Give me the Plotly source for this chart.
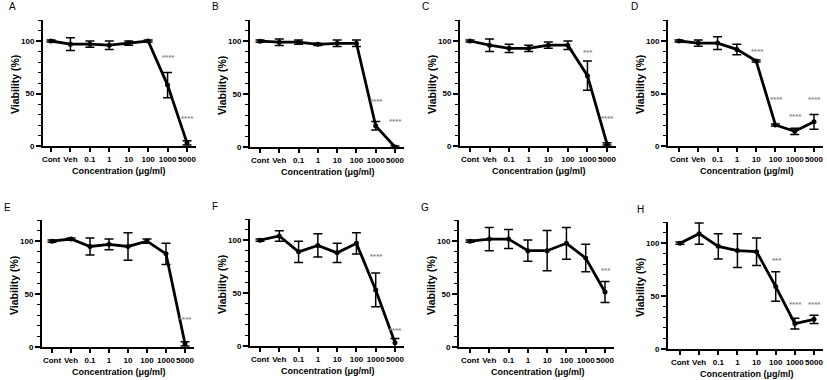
import plotly.graph_objects as go

categories = ["Cont", "Veh", "0.1", "1", "10", "100", "1000", "5000"]

A_mean = [100, 97, 97, 96, 98, 100, 58, 3]
A_err = [1, 6, 3, 4, 2, 1, 12, 2]
B_mean = [100, 99, 99, 97, 98, 98, 20, 0]
B_err = [1, 3, 2, 1, 3, 3, 4, 1]
C_mean = [100, 96, 93, 93, 96, 96, 67, 2]
C_err = [1, 6, 4, 3, 3, 4, 14, 1]
D_mean = [100, 98, 98, 92, 81, 20, 14, 23]
D_err = [1, 3, 6, 5, 1, 1, 3, 7]
E_mean = [100, 102, 95, 97, 95, 100, 88, 3]
E_err = [1, 1, 8, 5, 13, 2, 10, 2]
F_mean = [100, 104, 89, 95, 88, 97, 53, 3]
F_err = [1, 5, 10, 11, 9, 10, 16, 4]
G_mean = [100, 102, 102, 91, 91, 98, 84, 52]
G_err = [1, 11, 9, 10, 19, 15, 13, 10]
H_mean = [100, 109, 97, 93, 92, 59, 24, 28]
H_err = [1, 10, 12, 16, 13, 14, 5, 4]

# significance labels: (category index, label)
A_sig = [(6, "****"), (7, "****")]
B_sig = [(6, "****"), (7, "****")]
C_sig = [(6, "***"), (7, "****")]
D_sig = [(4, "****"), (5, "****"), (6, "****"), (7, "****")]
E_sig = [(7, "****")]
F_sig = [(6, "****"), (7, "****")]
G_sig = [(7, "***")]
H_sig = [(5, "***"), (6, "****"), (7, "****")]

W, H = 827, 380

# layout: panel letter, data, sig, y-positions of sig labels, pixel geometry
panels = [
    ("A", A_mean, A_err, A_sig, [84, 26], dict(yax=43, cont=51, last=187, top=20, zero=146, lx=7)),
    ("B", B_mean, B_err, B_sig, [43, 24], dict(yax=250, cont=260, last=395, top=20, zero=147, lx=210)),
    ("C", C_mean, C_err, C_sig, [89, 26], dict(yax=460, cont=470, last=607, top=20, zero=146, lx=420)),
    ("D", D_mean, D_err, D_sig, [90, 44, 28, 44], dict(yax=668, cont=679, last=814, top=20, zero=146, lx=629)),
    ("E", E_mean, E_err, E_sig, [26], dict(yax=42, cont=52, last=185, top=220, zero=347, lx=2)),
    ("F", F_mean, F_err, F_sig, [85, 15], dict(yax=250, cont=260, last=395, top=219, zero=346, lx=210)),
    ("G", G_mean, G_err, G_sig, [72], dict(yax=459, cont=470, last=605, top=220, zero=347, lx=419)),
    ("H", H_mean, H_err, H_sig, [84, 42, 42], dict(yax=668, cont=680, last=814, top=222, zero=349, lx=635)),
]

FONT = "Liberation Sans, Arial, sans-serif"

fig = go.Figure()
annotations = []
layout_axes = {}

for i, (letter, mean, err, sig, sig_y, g) in enumerate(panels):
    n = i + 1
    xa = "x" if n == 1 else f"x{n}"
    ya = "y" if n == 1 else f"y{n}"
    xkey = "xaxis" if n == 1 else f"xaxis{n}"
    ykey = "yaxis" if n == 1 else f"yaxis{n}"
    sp = (g["last"] - g["cont"]) / 7.0
    right_px = g["last"] + 0.45 * sp
    x0 = -(g["cont"] - g["yax"]) / sp
    xs = list(range(len(categories)))

    fig.add_trace(go.Scatter(
        x=xs, y=mean, xaxis=xa, yaxis=ya, mode="lines+markers",
        line=dict(color="black", width=2.8),
        marker=dict(color="black", size=5),
        error_y=dict(type="data", array=err, color="black", thickness=1.5, width=4.5),
        showlegend=False, cliponaxis=False,
    ))

    layout_axes[xkey] = dict(
        domain=[g["yax"] / W, right_px / W], range=[x0, 7.45], anchor=ya,
        tickmode="array", tickvals=xs, ticktext=categories, tickangle=0,
        showline=True, linecolor="black", linewidth=2, automargin=False,
        ticks="outside", ticklen=4, tickwidth=1.5, tickcolor="black",
        showgrid=False, zeroline=False, fixedrange=True,
        tickfont=dict(family=FONT, size=8, color="black", weight="bold"),
    )
    layout_axes[ykey] = dict(
        domain=[1 - g["zero"] / H, 1 - g["top"] / H], range=[0, 120], anchor=xa,
        tickmode="array", tickvals=[0, 50, 100], ticktext=["0", "50", "100"],
        showline=True, linecolor="black", linewidth=2, automargin=False,
        ticks="outside", ticklen=5, tickwidth=1.5, tickcolor="black",
        minor=dict(tickmode="linear", tick0=0, dtick=10, ticks="outside", ticklen=3,
                   tickwidth=1.2, tickcolor="black"),
        showgrid=False, zeroline=False, fixedrange=True,
        tickfont=dict(family=FONT, size=8, color="black", weight="bold"),
    )

    # significance labels
    for (idx, txt), yv in zip(sig, sig_y):
        annotations.append(dict(
            x=idx + 0.05, y=yv, xref=xa, yref=ya, text=txt, showarrow=False,
            font=dict(family=FONT, size=8, color="#8a8a8a", weight="bold"),
            xanchor="center", yanchor="middle",
        ))

    # panel letter
    annotations.append(dict(
        x=g["lx"] / W, y=1 - (g["top"] - 13) / H, xref="paper", yref="paper",
        text=letter, showarrow=False, xanchor="left", yanchor="middle",
        font=dict(family=FONT, size=10, color="black"),
    ))
    # y title
    annotations.append(dict(
        x=(g["yax"] - 28) / W, y=1 - (g["zero"] - 61) / H, xref="paper", yref="paper",
        text="Viability (%)", showarrow=False, textangle=-90,
        xanchor="center", yanchor="middle",
        font=dict(family=FONT, size=10.5, color="black", weight="bold"),
    ))
    # x title
    annotations.append(dict(
        x=((g["cont"] + g["last"]) / 2) / W, y=1 - (g["zero"] + 25) / H,
        xref="paper", yref="paper",
        text="Concentration (\u03bcg/ml)", showarrow=False,
        xanchor="center", yanchor="middle",
        font=dict(family=FONT, size=9, color="black", weight="bold"),
    ))

fig.update_layout(
    width=W, height=H, margin=dict(l=0, r=0, t=0, b=0, autoexpand=False),
    paper_bgcolor="white", plot_bgcolor="white",
    annotations=annotations, showlegend=False,
    **layout_axes,
)

fig.write_html(
    "out.html", config={"displayModeBar": False},
    post_script="document.body.style.margin='0px';document.body.style.overflow='hidden';",
)
